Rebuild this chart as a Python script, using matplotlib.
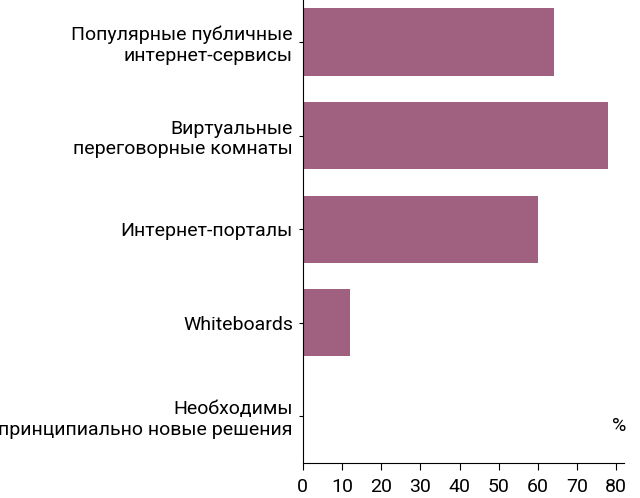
import matplotlib.pyplot as plt

categories = [
    "Популярные публичные\nинтернет-сервисы",
    "Виртуальные\nпереговорные комнаты",
    "Интернет-порталы",
    "Whiteboards",
    "Необходимы\nпринципиально новые решения",
]
values = [64, 78, 60, 12, 0]
xticks = [0, 10, 20, 30, 40, 50, 60, 70, 80]

plt.rcParams['font.family'] = ['Liberation Sans Narrow', 'Roboto', 'DejaVu Sans']
plt.rcParams['font.size'] = 14

fig = plt.figure(figsize=(6.4, 4.98), dpi=100)
ax = fig.add_axes([0.473, 0.07, 0.49, 0.93])

pos = list(range(len(categories)))
ax.barh(pos, values, height=0.72, color='#a0607f')
ax.set_ylim(len(categories) - 0.5, -0.45)
ax.set_xlim(0, 80)
ax.set_yticks(pos)
ax.set_yticklabels(categories, ha='right')
ax.set_xticks(xticks)
ax.tick_params(axis='y', length=3, pad=4)
ax.tick_params(axis='x', length=5, pad=6)
ax.spines['top'].set_visible(False)
ax.spines['right'].set_visible(False)
ax.spines['bottom'].set_bounds(0, 82)
ax.text(1.01, 0.06, "%", transform=ax.transAxes, ha='center', va='bottom', fontsize=14)

fig.savefig("out.png", dpi=100)
